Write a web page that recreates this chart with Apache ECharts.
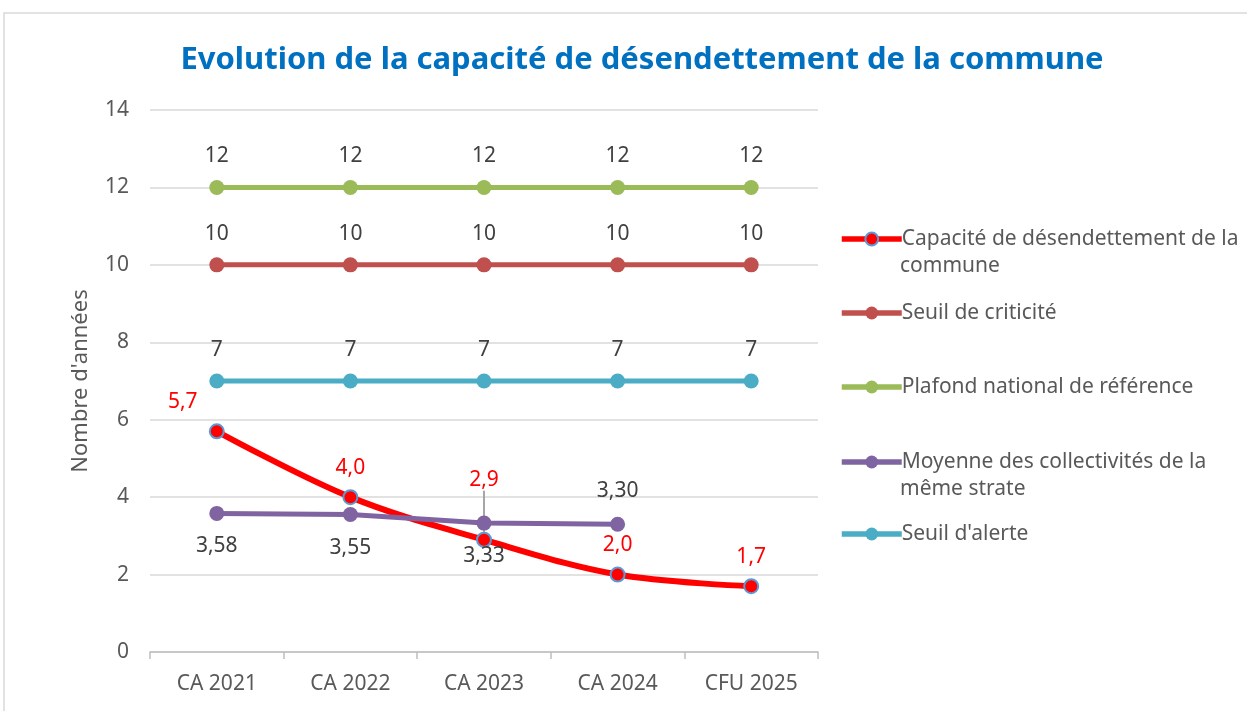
<!DOCTYPE html>
<html>
<head>
<meta charset="utf-8">
<script src="https://cdn.jsdelivr.net/npm/echarts@6/dist/echarts.min.js"></script>
<style>
  html, body { margin: 0; padding: 0; background: #fff; }
  #chart { width: 1247px; height: 711px; }
</style>
</head>
<body>
<div id="chart"></div>
<script>
var categories = ['CA 2021', 'CA 2022', 'CA 2023', 'CA 2024', 'CFU 2025'];
var capacite = [5.7, 4.0, 2.9, 2.0, 1.7];
var criticite = [10, 10, 10, 10, 10];
var plafond = [12, 12, 12, 12, 12];
var moyenne = [3.58, 3.55, 3.33, 3.30, null];
var alerte = [7, 7, 7, 7, 7];
var yTicks = [0, 2, 4, 6, 8, 10, 12, 14];

var names = [
    'Capacité de désendettement de la commune',
    'Seuil de criticité',
    'Plafond national de référence',
    'Moyenne des collectivités de la même strate',
    "Seuil d'alerte"
];

function fr(v, d) {
    return v.toFixed(d).replace('.', ',');
}

var font = 'Noto Sans';
var grey = '#595959';
var fs = 21;

var chart = echarts.init(document.getElementById('chart'));

// one legend per entry so the spacing follows the reference
function legendAt(name, top) {
    return {
        orient: 'vertical',
        left: 834,
        top: top,
        data: [name],
        itemWidth: 60,
        itemHeight: 16,
        lineStyle: { width: 5.5 },
        formatter: function (n) {
            if (n === names[0]) return 'Capacité de désendettement de la';
            if (n === names[3]) return 'Moyenne des collectivités de la';
            return n;
        },
        textStyle: { color: grey, fontSize: fs, fontFamily: font, lineHeight: 28, padding: [0, 0, 0, -5] }
    };
}

var baseLabel = { show: true, position: 'top', distance: 13, color: '#404040', fontSize: fs, fontFamily: font };

option = {
    backgroundColor: '#fff',
    animation: false,
    title: {
        text: 'Evolution de la capacité de désendettement de la commune',
        left: 637,
        textAlign: 'center',
        top: 40,
        textStyle: { color: '#0070C0', fontSize: 31, fontWeight: 'bold', fontFamily: font }
    },
    graphic: [
        {
            type: 'rect',
            shape: { x: 4, y: 13, width: 1300, height: 760 },
            style: { fill: 'none', stroke: '#D9D9D9', lineWidth: 1.5 },
            silent: true
        },
        {
            type: 'text', left: 900, top: 256,
            style: { text: 'commune', fill: grey, fontSize: fs, fontFamily: font }
        },
        {
            type: 'text', left: 900, top: 479,
            style: { text: 'même strate', fill: grey, fontSize: fs, fontFamily: font }
        }
    ],
    legend: [
        legendAt(names[0], 220),
        legendAt(names[1], 294),
        legendAt(names[2], 368),
        legendAt(names[3], 443),
        legendAt(names[4], 515)
    ],
    grid: { left: 150, right: 429, top: 110, bottom: 59 },
    xAxis: {
        type: 'category',
        data: categories,
        boundaryGap: true,
        axisLine: { lineStyle: { color: '#BFBFBF', width: 1.5 } },
        axisTick: { show: true, length: 7, lineStyle: { color: '#BFBFBF', width: 1.5 } },
        axisLabel: { color: grey, fontSize: fs, fontFamily: font, margin: 22 }
    },
    yAxis: {
        type: 'value',
        min: yTicks[0],
        max: yTicks[yTicks.length - 1],
        interval: 2,
        name: "Nombre d'années",
        nameLocation: 'middle',
        nameGap: 58,
        nameTextStyle: { color: grey, fontSize: 22, fontFamily: font },
        axisLine: { show: false },
        axisTick: { show: false },
        axisLabel: { color: grey, fontSize: fs, fontFamily: font, margin: 21 },
        splitLine: { lineStyle: { color: '#D9D9D9', width: 1.5 } }
    },
    series: [
        {
            name: names[0],
            type: 'line',
            smooth: 0.35,
            data: capacite.map(function (v, i) {
                var item = { value: v };
                if (i === 2) item.labelLine = { show: true, lineStyle: { color: '#A6A6A6', width: 2 } };
                return item;
            }),
            labelLayout: function (p) {
                if (p.dataIndex === 0) return { dx: -34 };
                if (p.dataIndex === 2) return { dy: -30 };
                return {};
            },
            symbol: 'circle',
            symbolSize: 14,
            z: 3,
            lineStyle: { color: '#FF0000', width: 6 },
            itemStyle: { color: '#FF0000', borderColor: '#5B9BD5', borderWidth: 2 },
            label: {
                show: true, position: 'top', distance: 11, color: '#FF0000', fontSize: fs, fontFamily: font,
                formatter: function (p) { return fr(p.value, 1); }
            }
        },
        {
            name: names[1],
            type: 'line',
            data: criticite,
            symbol: 'circle',
            symbolSize: 15,
            lineStyle: { color: '#C0504D', width: 5 },
            itemStyle: { color: '#C0504D' },
            label: Object.assign({}, baseLabel, { formatter: function (p) { return fr(p.value, 0); } })
        },
        {
            name: names[2],
            type: 'line',
            data: plafond,
            symbol: 'circle',
            symbolSize: 15,
            lineStyle: { color: '#9BBB59', width: 5 },
            itemStyle: { color: '#9BBB59' },
            label: Object.assign({}, baseLabel, { formatter: function (p) { return fr(p.value, 0); } })
        },
        {
            name: names[3],
            type: 'line',
            data: moyenne.map(function (v, i) {
                return { value: v, label: { position: i === 3 ? 'top' : 'bottom' } };
            }),
            symbol: 'circle',
            symbolSize: 15,
            z: 4,
            lineStyle: { color: '#8064A2', width: 5 },
            itemStyle: { color: '#8064A2' },
            label: Object.assign({}, baseLabel, { distance: 15, formatter: function (p) { return fr(p.value, 2); } })
        },
        {
            name: names[4],
            type: 'line',
            data: alerte,
            symbol: 'circle',
            symbolSize: 15,
            lineStyle: { color: '#4BACC6', width: 5 },
            itemStyle: { color: '#4BACC6' },
            label: Object.assign({}, baseLabel, { formatter: function (p) { return fr(p.value, 0); } })
        }
    ]
};

chart.setOption(option);
</script>
</body>
</html>
